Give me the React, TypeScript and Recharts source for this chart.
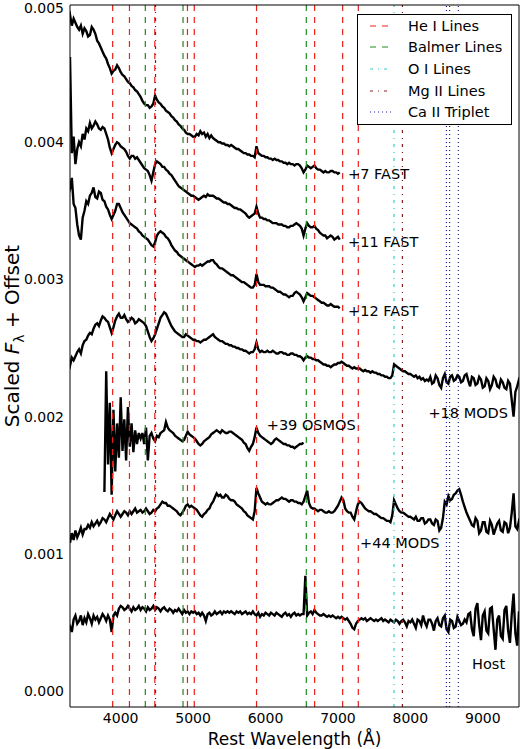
import React from "react";
import { LineChart, Line, XAxis, YAxis, ReferenceLine, ReferenceDot, Legend } from "recharts";

const FONT = "'DejaVu Sans', 'Liberation Sans', sans-serif";

// every spectrum is sampled on a 25 Å wavelength grid (first sample sits just left of the axis)
const GRID_STEP = 25;
const FULL_START = 3275;
const OSMOS_START = 3775;

const xTicks = [4000, 5000, 6000, 7000, 8000, 9000];
const yTicks = [0, 1, 2, 3, 4, 5]; // units of 1e-3

// flux in units of 1e-3 (offset already applied), one row = 250 Å
const fast7 = [
  4.9, 4.93, 4.85, 4.9, 4.87, 4.84, 4.82, 4.85, 4.79, 4.83,
  4.81, 4.77, 4.78, 4.84, 4.82, 4.79, 4.74, 4.72, 4.69, 4.66,
  4.63, 4.61, 4.57, 4.54, 4.5, 4.52, 4.53, 4.56, 4.54, 4.51,
  4.49, 4.48, 4.46, 4.44, 4.43, 4.41, 4.4, 4.38, 4.37, 4.35,
  4.33, 4.3, 4.28, 4.27, 4.27, 4.25, 4.26, 4.28, 4.34, 4.31,
  4.29, 4.28, 4.26, 4.25, 4.23, 4.22, 4.21, 4.19, 4.18, 4.16,
  4.15, 4.13, 4.12, 4.1, 4.09, 4.07, 4.06, 4.06, 4.05, 4.04,
  4.04, 4.06, 4.05, 4.08, 4.06, 4.07, 4.04, 4.06, 4.03, 4.05,
  4.03, 4.02, 4.01, 4.0, 4.0, 3.99, 3.99, 3.98, 3.98, 3.97,
  3.98, 3.97, 3.96, 3.95, 3.95, 3.94, 3.93, 3.92, 3.92, 3.91,
  3.91, 3.9, 3.9, 3.89, 3.97, 3.92, 3.91, 3.9, 3.9, 3.89,
  3.89, 3.88, 3.88, 3.87, 3.88, 3.87, 3.87, 3.86, 3.86, 3.85,
  3.85, 3.84, 3.85, 3.84, 3.84, 3.83, 3.84, 3.84, 3.83, 3.81,
  3.78, 3.8, 3.83, 3.82, 3.81, 3.82, 3.83, 3.81, 3.8, 3.8,
  3.79, 3.78, 3.79, 3.78, 3.78, 3.79, 3.79, 3.78, 3.78, 3.77,
  3.78,
];

const fast11 = [
  4.3, 4.62, 3.92, 4.04, 3.84, 3.95, 4.0, 3.97, 4.06, 4.02,
  4.1, 4.08, 4.14, 4.1, 4.12, 4.15, 4.13, 4.1, 4.09, 4.11,
  4.1, 4.06, 4.02, 3.96, 3.92, 3.95, 3.98, 4.0, 3.99, 3.97,
  3.96, 3.95, 3.93, 3.9, 3.88, 3.9, 3.9, 3.88, 3.89, 3.87,
  3.85, 3.83, 3.81, 3.8, 3.79, 3.76, 3.72, 3.78, 3.84, 3.86,
  3.85, 3.84, 3.82, 3.82, 3.8, 3.79, 3.77, 3.76, 3.74, 3.72,
  3.7, 3.68, 3.67, 3.66, 3.65, 3.64, 3.63, 3.62, 3.61, 3.61,
  3.6, 3.59, 3.58, 3.59, 3.6, 3.61, 3.6, 3.62, 3.61, 3.61,
  3.61, 3.6, 3.59, 3.59, 3.58, 3.57, 3.56, 3.56, 3.55, 3.55,
  3.54, 3.53, 3.52, 3.52, 3.51, 3.51, 3.5, 3.49, 3.48, 3.46,
  3.45, 3.46, 3.47, 3.48, 3.53, 3.48, 3.45, 3.45, 3.44, 3.44,
  3.43, 3.43, 3.42, 3.41, 3.41, 3.41, 3.4, 3.4, 3.4, 3.39,
  3.39, 3.38, 3.38, 3.39, 3.39, 3.4, 3.41, 3.4, 3.39, 3.37,
  3.32, 3.37, 3.41, 3.39, 3.38, 3.38, 3.39, 3.37, 3.36, 3.34,
  3.33, 3.32, 3.32, 3.3, 3.31, 3.32, 3.31, 3.29, 3.3, 3.31,
  3.29,
];

const fast12 = [
  3.62, 3.66, 3.74, 3.55, 3.52, 3.4, 3.32, 3.29, 3.45, 3.5,
  3.57, 3.55, 3.61, 3.63, 3.67, 3.6, 3.59, 3.64, 3.63, 3.58,
  3.57, 3.53, 3.51, 3.47, 3.44, 3.47, 3.5, 3.55, 3.55, 3.52,
  3.49, 3.47, 3.45, 3.43, 3.41, 3.4, 3.39, 3.38, 3.37, 3.35,
  3.34, 3.32, 3.31, 3.3, 3.29, 3.27, 3.25, 3.24, 3.27, 3.32,
  3.34, 3.35, 3.34, 3.33, 3.31, 3.3, 3.28, 3.25, 3.23, 3.21,
  3.2, 3.18, 3.17, 3.16, 3.15, 3.14, 3.13, 3.12, 3.11, 3.1,
  3.09, 3.1, 3.1, 3.11, 3.1, 3.11, 3.12, 3.13, 3.13, 3.14,
  3.14, 3.12, 3.11, 3.09, 3.08, 3.08, 3.07, 3.06, 3.05, 3.04,
  3.03, 3.03, 3.02, 3.01, 3.0, 2.99, 2.98, 2.98, 2.97, 2.96,
  2.95, 2.94, 2.94, 2.96, 3.04, 2.98, 2.96, 2.96, 2.96, 2.95,
  2.95, 2.95, 2.94, 2.94, 2.93, 2.92, 2.91, 2.91, 2.9, 2.89,
  2.89, 2.88, 2.87, 2.88, 2.88, 2.9, 2.91, 2.9, 2.89, 2.87,
  2.84, 2.87, 2.9, 2.89, 2.88, 2.88, 2.87, 2.86, 2.85, 2.84,
  2.83, 2.83, 2.82, 2.81, 2.81, 2.82, 2.81, 2.8, 2.8, 2.8,
  2.79,
];

const mods18 = [
  2.4, 2.37, 2.43, 2.41, 2.44, 2.47, 2.49, 2.46, 2.52, 2.55,
  2.56, 2.59, 2.61, 2.6, 2.64, 2.67, 2.68, 2.66, 2.7, 2.73,
  2.72, 2.7, 2.69, 2.65, 2.61, 2.65, 2.7, 2.73, 2.75, 2.72,
  2.72, 2.74, 2.71, 2.69, 2.7, 2.72, 2.71, 2.68, 2.69, 2.71,
  2.7, 2.69, 2.68, 2.66, 2.62, 2.58, 2.55, 2.57, 2.6, 2.64,
  2.68, 2.72, 2.74, 2.76, 2.75, 2.72, 2.69, 2.66, 2.64, 2.62,
  2.61, 2.6, 2.59, 2.58, 2.58, 2.6, 2.59, 2.58, 2.57, 2.56,
  2.56, 2.55, 2.55, 2.54, 2.55, 2.56, 2.56, 2.57, 2.58, 2.59,
  2.6, 2.58, 2.57, 2.56, 2.55, 2.55, 2.54, 2.53, 2.53, 2.52,
  2.52, 2.51, 2.51, 2.5, 2.5, 2.49, 2.49, 2.48, 2.48, 2.47,
  2.46, 2.47, 2.47, 2.49, 2.54, 2.49, 2.47, 2.48, 2.47, 2.47,
  2.48, 2.47, 2.47, 2.48, 2.47, 2.46, 2.46, 2.47, 2.47, 2.46,
  2.46, 2.45, 2.45, 2.46, 2.46, 2.45, 2.45, 2.44, 2.44, 2.43,
  2.41, 2.43, 2.44, 2.43, 2.43, 2.42, 2.42, 2.41, 2.41, 2.4,
  2.39, 2.38, 2.38, 2.37, 2.37, 2.36, 2.37, 2.38, 2.38, 2.39,
  2.39, 2.4, 2.39, 2.38, 2.37, 2.37, 2.36, 2.35, 2.36, 2.35,
  2.35, 2.35, 2.34, 2.33, 2.34, 2.33, 2.33, 2.32, 2.33, 2.32,
  2.32, 2.31, 2.31, 2.3, 2.3, 2.29, 2.29, 2.28, 2.28, 2.3,
  2.38, 2.37, 2.36, 2.35, 2.34, 2.33, 2.33, 2.32, 2.31, 2.31,
  2.3, 2.29, 2.3, 2.28, 2.29, 2.27, 2.28, 2.26, 2.27, 2.26,
  2.29, 2.24, 2.25, 2.3, 2.28, 2.23, 2.21, 2.28, 2.31, 2.25,
  2.24, 2.29, 2.3, 2.26, 2.27, 2.3, 2.29, 2.25, 2.26, 2.3,
  2.31, 2.26, 2.22, 2.29, 2.28, 2.23, 2.24, 2.29, 2.27, 2.21,
  2.22, 2.28, 2.26, 2.2, 2.23, 2.29, 2.27, 2.22, 2.21, 2.27,
  2.25, 2.21, 2.2, 2.26, 2.24, 2.12, 2.0, 2.18, 2.22, 2.27,
  2.25,
];

const osmos39 = [
  1.45, 2.33, 1.65, 2.1, 1.43, 2.05, 1.6, 1.95, 1.7, 2.14,
  1.75, 1.98, 1.68, 2.07, 1.78, 1.95, 1.74, 1.9, 1.8, 1.88,
  1.84, 1.88, 1.8, 1.92, 1.68, 1.86, 1.88, 1.84, 1.82, 1.86,
  1.85, 1.88, 1.89, 1.9, 1.96, 1.92, 1.9, 1.89, 1.88, 1.86,
  1.85, 1.84, 1.83, 1.82, 1.83, 1.86, 1.89, 1.87, 1.86, 1.85,
  1.84, 1.82, 1.8, 1.79, 1.8, 1.82, 1.83, 1.84, 1.85, 1.87,
  1.88, 1.89, 1.9, 1.89, 1.88, 1.9, 1.89, 1.88, 1.88, 1.89,
  1.89, 1.88, 1.87, 1.86, 1.85, 1.84, 1.83, 1.81, 1.8, 1.77,
  1.75, 1.78, 1.8, 1.85, 1.92, 1.88, 1.86, 1.85, 1.84, 1.83,
  1.82, 1.81, 1.8, 1.81, 1.83, 1.84, 1.83, 1.82, 1.81, 1.8,
  1.8, 1.79, 1.79, 1.78, 1.78, 1.77, 1.78, 1.79, 1.8, 1.8,
  1.81,
];

const mods44 = [
  1.13, 1.08, 1.15, 1.1, 1.17, 1.12, 1.15, 1.19, 1.14, 1.18,
  1.18, 1.21, 1.19, 1.23, 1.2, 1.22, 1.24, 1.21, 1.23, 1.26,
  1.25, 1.23, 1.26, 1.29, 1.27, 1.25, 1.28, 1.31, 1.29, 1.27,
  1.29, 1.31, 1.3, 1.28, 1.31, 1.29, 1.31, 1.33, 1.3, 1.31,
  1.32, 1.3, 1.31, 1.33, 1.31, 1.29, 1.3, 1.32, 1.31, 1.33,
  1.34, 1.36, 1.38, 1.37, 1.37, 1.35, 1.35, 1.34, 1.33, 1.32,
  1.31, 1.29, 1.28, 1.3, 1.32, 1.35, 1.36, 1.34, 1.35, 1.34,
  1.33, 1.32, 1.3, 1.28, 1.27, 1.29, 1.3, 1.32, 1.33, 1.36,
  1.38, 1.41, 1.44, 1.42, 1.43, 1.41, 1.41, 1.43, 1.42, 1.4,
  1.39, 1.39, 1.38, 1.36, 1.35, 1.34, 1.33, 1.31, 1.3, 1.28,
  1.27, 1.26, 1.25, 1.31, 1.48, 1.44, 1.41, 1.38, 1.37, 1.36,
  1.37, 1.36, 1.36, 1.37, 1.38, 1.39, 1.39, 1.4, 1.41, 1.4,
  1.4, 1.39, 1.38, 1.39, 1.39, 1.38, 1.38, 1.37, 1.37, 1.36,
  1.38, 1.42, 1.46, 1.37, 1.34, 1.33, 1.33, 1.32, 1.31, 1.32,
  1.32, 1.31, 1.3, 1.3, 1.31, 1.3, 1.3, 1.31, 1.33, 1.35,
  1.38, 1.41, 1.39, 1.33, 1.31, 1.3, 1.3, 1.27, 1.25, 1.31,
  1.36, 1.38, 1.37, 1.35, 1.33, 1.32, 1.31, 1.31, 1.3, 1.29,
  1.29, 1.28, 1.27, 1.26, 1.26, 1.25, 1.24, 1.24, 1.23, 1.28,
  1.39, 1.36, 1.33, 1.31, 1.3, 1.3, 1.29, 1.28, 1.27, 1.27,
  1.26, 1.25, 1.27, 1.24, 1.24, 1.26, 1.26, 1.22, 1.23, 1.25,
  1.25, 1.22, 1.21, 1.25, 1.24, 1.17, 1.19, 1.26, 1.38, 1.36,
  1.42, 1.39, 1.4, 1.43, 1.44, 1.46, 1.47, 1.43, 1.38, 1.34,
  1.3, 1.27, 1.24, 1.21, 1.2, 1.26, 1.24, 1.15, 1.17, 1.23,
  1.23, 1.16, 1.15, 1.24, 1.21, 1.14, 1.18, 1.22, 1.24, 1.17,
  1.16, 1.23, 1.22, 1.15, 1.19, 1.3, 1.44, 1.2, 1.18, 1.24,
  1.22,
];

const host = [
  0.5, 0.47, 0.43, 0.52, 0.55, 0.49, 0.51, 0.55, 0.48, 0.53,
  0.5, 0.56, 0.53, 0.49, 0.55, 0.52, 0.54, 0.5, 0.53, 0.56,
  0.54, 0.51, 0.55, 0.52, 0.43, 0.55, 0.57, 0.55, 0.6, 0.62,
  0.61, 0.59, 0.6, 0.62, 0.6, 0.58, 0.61, 0.59, 0.6, 0.62,
  0.59, 0.61, 0.6, 0.58, 0.61, 0.59, 0.6, 0.62, 0.59, 0.61,
  0.6, 0.58, 0.6, 0.61, 0.59, 0.58, 0.6, 0.59, 0.57, 0.59,
  0.58, 0.6, 0.58, 0.56, 0.59, 0.57, 0.58, 0.56, 0.58, 0.57,
  0.58, 0.56, 0.57, 0.55, 0.57, 0.55, 0.51, 0.56, 0.57, 0.55,
  0.56, 0.58, 0.56, 0.57, 0.58, 0.56, 0.58, 0.57, 0.58, 0.57,
  0.58, 0.57, 0.56, 0.58, 0.57, 0.58, 0.56, 0.57, 0.58, 0.56,
  0.57, 0.56, 0.58, 0.56, 0.55, 0.57, 0.54, 0.56, 0.55, 0.57,
  0.56, 0.55, 0.57, 0.56, 0.55, 0.57, 0.56, 0.55, 0.54, 0.56,
  0.57, 0.55, 0.56, 0.54, 0.56, 0.57, 0.55, 0.56, 0.55, 0.56,
  0.56, 0.84, 0.55, 0.57, 0.58, 0.56, 0.59, 0.57, 0.56, 0.55,
  0.55, 0.56, 0.55, 0.54, 0.55, 0.54, 0.55, 0.54, 0.53, 0.54,
  0.53, 0.54, 0.53, 0.52, 0.53, 0.51, 0.49, 0.46, 0.45, 0.49,
  0.51, 0.52, 0.53, 0.52, 0.53, 0.51, 0.52, 0.53, 0.52, 0.51,
  0.52, 0.51, 0.52, 0.53, 0.51, 0.52, 0.51, 0.5, 0.52, 0.51,
  0.5, 0.52, 0.51, 0.49, 0.51, 0.52, 0.5, 0.47, 0.51, 0.5,
  0.52, 0.49, 0.46, 0.52, 0.51, 0.48, 0.55, 0.5, 0.47, 0.52,
  0.52, 0.49, 0.44, 0.51, 0.53, 0.48, 0.47, 0.53, 0.55, 0.45,
  0.43, 0.52, 0.51, 0.46, 0.47, 0.54, 0.51, 0.48, 0.49, 0.52,
  0.5, 0.56, 0.57, 0.45, 0.4, 0.6, 0.64, 0.48, 0.37, 0.55,
  0.58, 0.44, 0.42, 0.6, 0.61, 0.45, 0.3, 0.52, 0.55, 0.4,
  0.38, 0.59, 0.62, 0.44, 0.35, 0.56, 0.71, 0.42, 0.33, 0.58,
  0.5,
];

// line identifications (Å)
const heLines = [3889, 4121, 4471, 4922, 5016, 5876, 6678, 7065, 7281];
const balmerLines = [4340, 4861, 6563];
const oLines = [7774];
const mgLines = [4481, 7890];
const caLines = [8498, 8542, 8662];

// spectrum labels: text, wavelength of left edge, flux at text centre
const labels: [string, number, number][] = [
  ["+7 FAST", 7140, 3.77],
  ["+11 FAST", 7140, 3.27],
  ["+12 FAST", 7140, 2.77],
  ["+18 MODS", 8250, 2.03],
  ["+39 OSMOS", 6017, 1.94],
  ["+44 MODS", 7305, 1.08],
  ["Host", 8852, 0.2],
];

const HE = "#e8211c";
const BALMER = "#1f8a1f";
const OI = "#33cccc";
const MG = "#8b1c1c";
const CA = "#1a1aa8";

const lineStyles = [
  { name: "He I Lines", color: HE, dash: "6 6", lines: heLines },
  { name: "Balmer Lines", color: BALMER, dash: "6 6", lines: balmerLines },
  { name: "O I Lines", color: OI, dash: "3 5 1 5", lines: oLines },
  { name: "Mg II Lines", color: MG, dash: "3 5 1 5", lines: mgLines },
  { name: "Ca II Triplet", color: CA, dash: "1 3", lines: caLines },
];

const toPoints = (start: number, flux: number[]) =>
  flux.map((f, i) => ({ wl: start + i * GRID_STEP, f }));

const spectra = [
  toPoints(FULL_START, fast7),
  toPoints(FULL_START, fast11),
  toPoints(FULL_START, fast12),
  toPoints(FULL_START, mods18),
  toPoints(OSMOS_START, osmos39),
  toPoints(FULL_START, mods44),
  toPoints(FULL_START, host),
];

const tickStyle = { fill: "#000", fontSize: 14, fontFamily: FONT };

function LegendBox() {
  return (
    <div
      style={{
        width: 155,
        height: 111,
        boxSizing: "border-box",
        border: "1px solid #000",
        background: "#fff",
        fontFamily: FONT,
        fontSize: 14.5,
        color: "#000",
      }}
    >
      {lineStyles.map((s) => (
        <div key={s.name} style={{ display: "flex", alignItems: "center", height: 21.6 }}>
          <svg width={50} height={10} style={{ flex: "none" }}>
            <line x1={12} x2={34} y1={5} y2={5} stroke={s.color} strokeWidth={1.2} strokeDasharray={s.dash} />
          </svg>
          <span style={{ whiteSpace: "nowrap" }}>{s.name}</span>
        </div>
      ))}
    </div>
  );
}

const YLabel = () => (
  <text transform="translate(19, 336) rotate(-90)" textAnchor="middle" fontFamily={FONT} fontSize={20} fill="#000">
    Scaled <tspan fontStyle="italic">F</tspan>
    <tspan fontSize={14} dy={5}>λ</tspan>
    <tspan dy={-5}> + Offset</tspan>
  </text>
);

export default function App() {
  const xDomain: [number, number] = [3300, 9500];
  const yDomain: [number, number] = [-0.117, 5];
  return (
    <div style={{ position: "absolute", left: 0, top: 0, background: "#fff" }}>
      <LineChart width={520} height={749} margin={{ top: 5, right: 1, bottom: 0, left: 0 }}>
        <XAxis
          xAxisId="b"
          dataKey="wl"
          type="number"
          domain={xDomain}
          allowDataOverflow
          ticks={xTicks}
          tick={tickStyle}
          tickLine={false}
          tickSize={0}
          tickMargin={6}
          height={42}
          axisLine={{ stroke: "#000" }}
          label={{ value: "Rest Wavelength (Å)", position: "insideBottom", offset: 4, fill: "#000", fontSize: 17, fontFamily: FONT }}
        />
        <XAxis xAxisId="bm" type="number" domain={xDomain} ticks={xTicks} mirror orientation="bottom" tick={false} tickSize={5} axisLine={false} stroke="#000" />
        <XAxis xAxisId="tm" type="number" domain={xDomain} ticks={xTicks} mirror orientation="top" tick={false} tickSize={5} axisLine={{ stroke: "#000" }} stroke="#000" />
        <YAxis
          yAxisId="l"
          type="number"
          domain={yDomain}
          allowDataOverflow
          ticks={yTicks}
          tickFormatter={(t: number) => (t / 1000).toFixed(3)}
          tick={tickStyle}
          tickLine={false}
          tickSize={0}
          tickMargin={6}
          width={70}
          axisLine={{ stroke: "#000" }}
          label={<YLabel />}
        />
        <YAxis yAxisId="lm" type="number" domain={yDomain} ticks={yTicks} mirror orientation="left" tick={false} tickSize={5} axisLine={false} stroke="#000" />
        <YAxis yAxisId="rm" type="number" domain={yDomain} ticks={yTicks} mirror orientation="right" tick={false} tickSize={5} axisLine={{ stroke: "#000" }} stroke="#000" />

        {spectra.map((pts, i) => (
          <Line
            key={i}
            xAxisId="b"
            yAxisId="l"
            data={pts}
            dataKey="f"
            type="linear"
            dot={false}
            stroke="#000"
            strokeWidth={2.4}
            isAnimationActive={false}
            legendType="none"
          />
        ))}

        {lineStyles.map((s) =>
          s.lines.map((l) => (
            <ReferenceLine
              key={`${s.name}-${l}`}
              xAxisId="b"
              yAxisId="l"
              x={l}
              stroke={s.color}
              strokeWidth={1.2}
              strokeDasharray={s.dash}
            />
          ))
        )}

        {labels.map(([text, wl, f]) => (
          <ReferenceDot
            key={text}
            xAxisId="b"
            yAxisId="l"
            x={wl}
            y={f}
            r={0}
            fill="none"
            stroke="none"
            label={{ value: text, position: "right", offset: 0, fill: "#000", fontSize: 14.5, fontFamily: FONT }}
          />
        ))}

        <Legend
          layout="vertical"
          align="center"
          verticalAlign="middle"
          wrapperStyle={{ left: 357, top: 14, width: 155, height: 111 }}
          content={() => <LegendBox />}
        />
      </LineChart>
    </div>
  );
}
